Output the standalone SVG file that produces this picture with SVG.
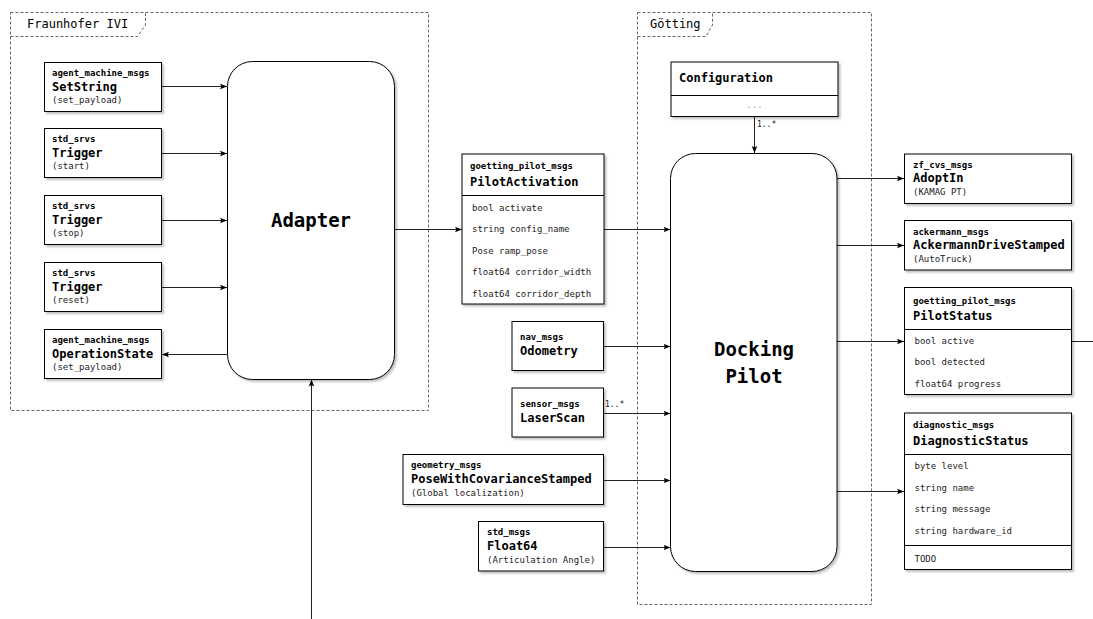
<svg xmlns="http://www.w3.org/2000/svg" width="1093" height="619" viewBox="0 0 1093 619">
<defs>
<style>
text{font-family:"DejaVu Sans Mono","Liberation Mono",monospace;fill:#000}
.pkg{font-size:9px;font-weight:bold}
.type{font-size:12px;font-weight:bold}
.sub{font-size:9px;fill:#222}
.fld{font-size:9px;fill:#222}
.big{font-size:19px;font-weight:bold;text-anchor:middle}
.frame{fill:none;stroke:#666;stroke-width:1;stroke-dasharray:3 2}
.ftitle{font-size:12px}
.box{fill:#fff;stroke:#000;stroke-width:1;filter:url(#sh)}
.div{stroke:#000;stroke-width:1}
.con{fill:none;stroke:#222;stroke-width:1;marker-end:url(#arr)}
.line{fill:none;stroke:#222;stroke-width:1}
.mult{font-size:8px;fill:#222}
</style>
<filter id="sh" x="-10%" y="-10%" width="130%" height="130%">
<feDropShadow dx="2" dy="2" stdDeviation="1.2" flood-color="#000" flood-opacity="0.25"/>
</filter>
<marker id="arr" viewBox="0 0 10 10" refX="10" refY="5" markerWidth="7" markerHeight="7" orient="auto" markerUnits="userSpaceOnUse">
<path d="M0,1 L10,5 L0,9 L2,5 z" fill="#000"/>
</marker>
</defs>
<rect width="1093" height="619" fill="#fff"/>

<g id="frame-fraunhofer">
<rect class="frame" x="10.5" y="12.5" width="418" height="398"/>
<path class="frame" d="M10.5,36.5 H137.5 L145.5,25 V12.5"/>
<text class="ftitle" x="27" y="28">Fraunhofer IVI</text>
</g>
<g id="frame-goetting">
<rect class="frame" x="637.5" y="12.5" width="234" height="592"/>
<path class="frame" d="M637.5,36.5 H706 L712.5,25 V12.5"/>
<text class="ftitle" x="650" y="28">Götting</text>
</g>

<g id="connectors">
<path class="con" d="M161.5,86.5 H227"/>
<path class="con" d="M161.5,153.5 H227"/>
<path class="con" d="M161.5,220.5 H227"/>
<path class="con" d="M161.5,287.5 H227"/>
<path class="con" d="M227,354.5 H162"/>
<path class="con" d="M395,229.5 H462"/>
<path class="con" d="M604,229.5 H670.5"/>
<path class="con" d="M311.5,619 V379.5"/>
<path class="con" d="M754.5,117 V153"/>
<path class="con" d="M603.5,346.5 H670.5"/>
<path class="con" d="M603.5,413.5 H670.5"/>
<path class="con" d="M603.5,480.5 H670.5"/>
<path class="con" d="M603.5,547.5 H670.5"/>
<path class="con" d="M837,178.5 H904"/>
<path class="con" d="M837,245.5 H904"/>
<path class="con" d="M837,341.5 H904"/>
<path class="line" d="M1072,341.5 H1093"/>
<path class="con" d="M837,491.5 H904"/>
<text class="mult" x="757" y="127">1..*</text>
<text class="mult" x="605" y="407">1..*</text>
</g>

<g id="SetString">
<rect class="box" x="44.5" y="62.5" width="117" height="49"/>
<text class="pkg" x="52" y="76">agent_machine_msgs</text>
<text class="type" x="52" y="90.5">SetString</text>
<text class="sub" x="52" y="103">(set_payload)</text>
</g>
<g id="TriggerStart">
<rect class="box" x="44.5" y="128.5" width="117" height="49"/>
<text class="pkg" x="52" y="142">std_srvs</text>
<text class="type" x="52" y="156.5">Trigger</text>
<text class="sub" x="52" y="169">(start)</text>
</g>
<g id="TriggerStop">
<rect class="box" x="44.5" y="195.5" width="117" height="49"/>
<text class="pkg" x="52" y="209">std_srvs</text>
<text class="type" x="52" y="223.5">Trigger</text>
<text class="sub" x="52" y="236">(stop)</text>
</g>
<g id="TriggerReset">
<rect class="box" x="44.5" y="262.5" width="117" height="49"/>
<text class="pkg" x="52" y="276">std_srvs</text>
<text class="type" x="52" y="290.5">Trigger</text>
<text class="sub" x="52" y="303">(reset)</text>
</g>
<g id="OperationState">
<rect class="box" x="44.5" y="329.5" width="117" height="49"/>
<text class="pkg" x="52" y="343">agent_machine_msgs</text>
<text class="type" x="52" y="357.5">OperationState</text>
<text class="sub" x="52" y="370">(set_payload)</text>
</g>

<g id="Adapter">
<rect class="box" x="227.5" y="61.5" width="167" height="318" rx="25" ry="25"/>
<text class="big" x="311" y="227">Adapter</text>
</g>

<g id="PilotActivation">
<rect class="box" x="462" y="154" width="142" height="150"/>
<line class="div" x1="462" y1="195.5" x2="604" y2="195.5"/>
<text class="pkg" x="470" y="169">goetting_pilot_msgs</text>
<text class="type" x="470" y="186">PilotActivation</text>
<text class="fld" x="472" y="210.5">bool activate</text>
<text class="fld" x="472" y="232">string config_name</text>
<text class="fld" x="472" y="253.5">Pose ramp_pose</text>
<text class="fld" x="472" y="275">float64 corridor_width</text>
<text class="fld" x="472" y="296.5">float64 corridor_depth</text>
</g>

<g id="Odometry">
<rect class="box" x="512" y="321.5" width="91.5" height="49"/>
<text class="pkg" x="520" y="340">nav_msgs</text>
<text class="type" x="520" y="355">Odometry</text>
</g>
<g id="LaserScan">
<rect class="box" x="512" y="388" width="91.5" height="49"/>
<text class="pkg" x="520" y="407">sensor_msgs</text>
<text class="type" x="520" y="422">LaserScan</text>
</g>
<g id="PoseWithCovarianceStamped">
<rect class="box" x="403" y="454.5" width="200.5" height="50"/>
<text class="pkg" x="411" y="468">geometry_msgs</text>
<text class="type" x="411" y="482.5">PoseWithCovarianceStamped</text>
<text class="sub" x="411" y="495.5">(Global localization)</text>
</g>
<g id="Float64">
<rect class="box" x="478.5" y="521.5" width="125" height="49.5"/>
<text class="pkg" x="487" y="535">std_msgs</text>
<text class="type" x="487" y="549.5">Float64</text>
<text class="sub" x="487" y="562.5">(Articulation Angle)</text>
</g>

<g id="Configuration">
<rect class="box" x="671" y="62" width="167" height="54.5"/>
<line class="div" x1="671" y1="95.5" x2="838" y2="95.5"/>
<text class="type" x="679" y="82">Configuration</text>
<text x="754.5" y="108" style="font-size:9px;fill:#999;text-anchor:middle">...</text>
</g>

<g id="DockingPilot">
<rect class="box" x="670.5" y="153.5" width="166.5" height="418" rx="25" ry="25"/>
<text class="big" x="754" y="356">Docking</text>
<text class="big" x="754" y="383">Pilot</text>
</g>

<g id="AdoptIn">
<rect class="box" x="904.5" y="154" width="167" height="49.5"/>
<text class="pkg" x="913" y="168">zf_cvs_msgs</text>
<text class="type" x="913" y="182">AdoptIn</text>
<text class="sub" x="913" y="195">(KAMAG PT)</text>
</g>
<g id="AckermannDriveStamped">
<rect class="box" x="904.5" y="220.5" width="167" height="49.5"/>
<text class="pkg" x="913" y="234.5">ackermann_msgs</text>
<text class="type" x="913" y="248.5">AckermannDriveStamped</text>
<text class="sub" x="913" y="262">(AutoTruck)</text>
</g>
<g id="PilotStatus">
<rect class="box" x="904.5" y="287.5" width="167" height="107"/>
<line class="div" x1="904.5" y1="329.5" x2="1071.5" y2="329.5"/>
<text class="pkg" x="913" y="303.5">goetting_pilot_msgs</text>
<text class="type" x="913" y="319.5">PilotStatus</text>
<text class="fld" x="914.5" y="343.5">bool active</text>
<text class="fld" x="914.5" y="365">bool detected</text>
<text class="fld" x="914.5" y="386.5">float64 progress</text>
</g>
<g id="DiagnosticStatus">
<rect class="box" x="904.5" y="413" width="167" height="156.5"/>
<line class="div" x1="904.5" y1="454.5" x2="1071.5" y2="454.5"/>
<line class="div" x1="904.5" y1="545.5" x2="1071.5" y2="545.5"/>
<text class="pkg" x="913" y="428">diagnostic_msgs</text>
<text class="type" x="913" y="445">DiagnosticStatus</text>
<text class="fld" x="914.5" y="468.5">byte level</text>
<text class="fld" x="914.5" y="490.5">string name</text>
<text class="fld" x="914.5" y="512">string message</text>
<text class="fld" x="914.5" y="533.5">string hardware_id</text>
<text class="fld" x="914.5" y="562">TODO</text>
</g>
</svg>
